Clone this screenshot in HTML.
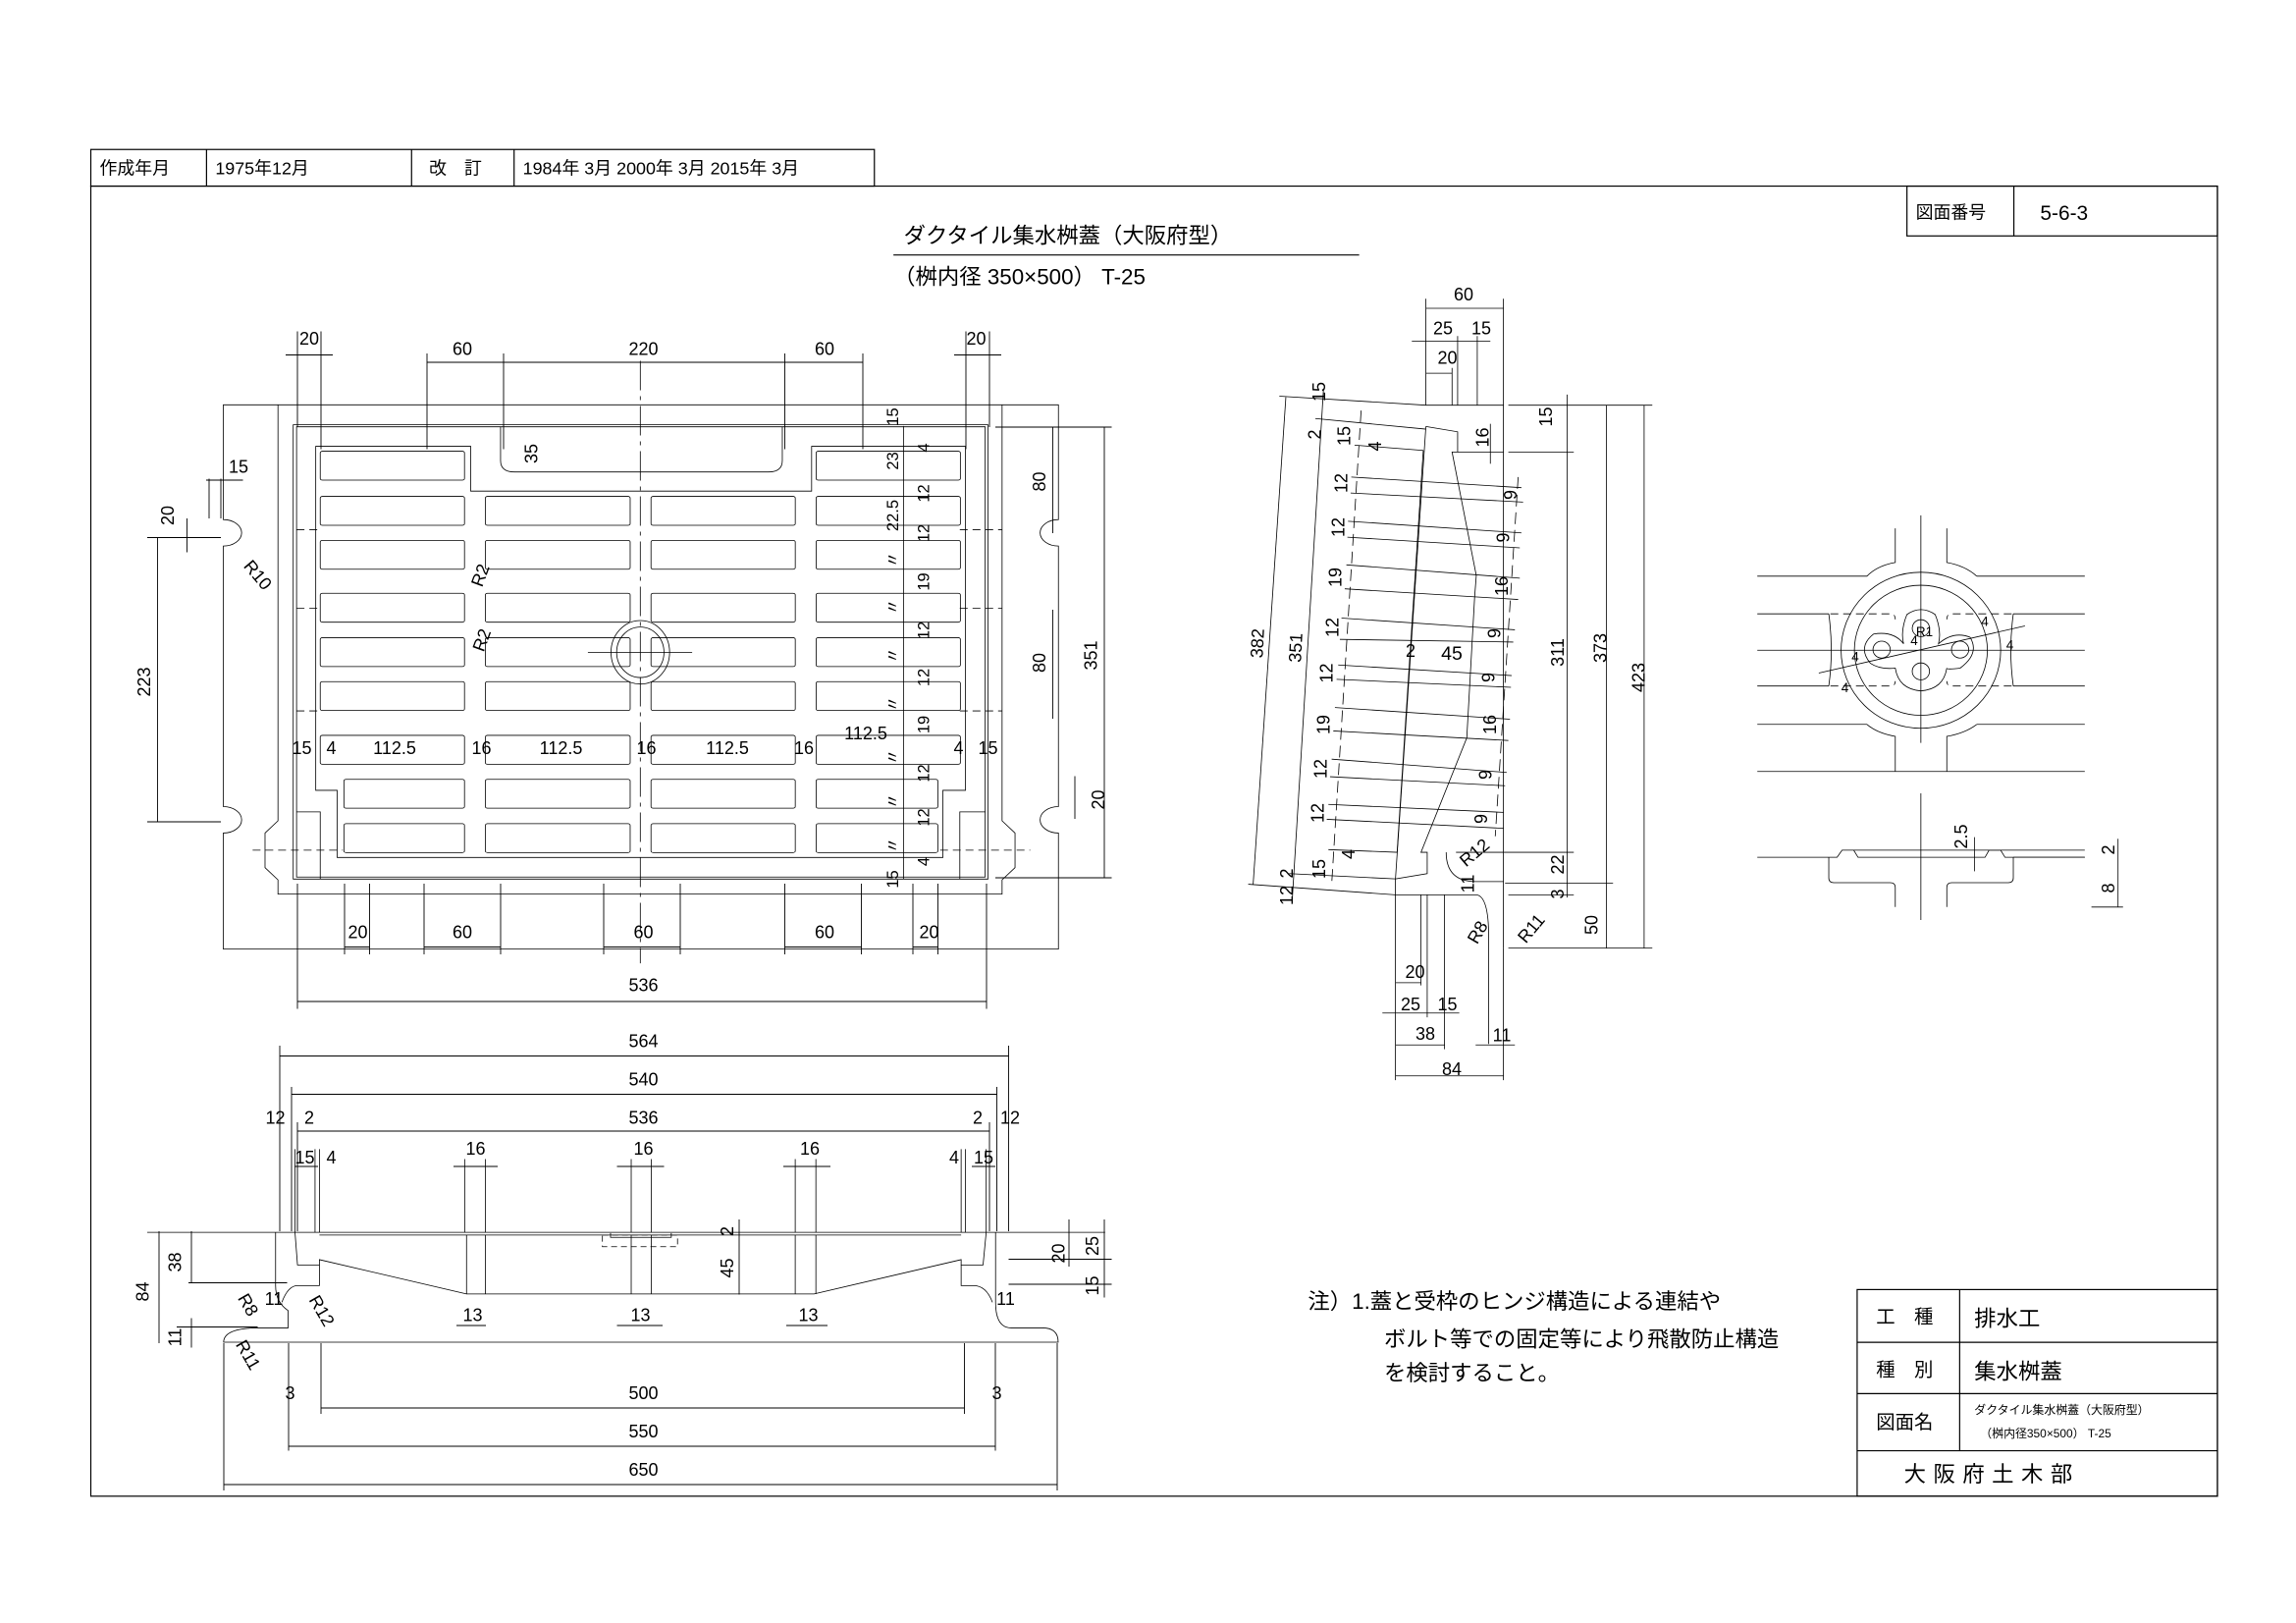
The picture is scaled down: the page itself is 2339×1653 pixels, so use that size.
<!DOCTYPE html>
<html><head><meta charset="utf-8"><style>
html,body{margin:0;padding:0;background:#fff}
svg{display:block}
text{font-family:"Liberation Sans","Noto Sans CJK JP",sans-serif;fill:#000}
.t *{vector-effect:non-scaling-stroke}
</style></head><body>
<svg width="2339" height="1653" viewBox="0 0 1559.33 1102" xmlns="http://www.w3.org/2000/svg" stroke="#000" fill="none" stroke-width="0.8">
<g transform="scale(0.9947,0.995)">
<!-- top strip -->
<rect x="62" y="102" width="535" height="25"/>
<line x1="141" y1="102" x2="141" y2="127"/><line x1="281" y1="102" x2="281" y2="127"/><line x1="351" y1="102" x2="351" y2="127"/>
<g stroke="none" font-size="12">
<text x="68" y="119">作成年月</text><text x="147" y="119">1975年12月</text><text x="293" y="119">改　訂</text><text x="357" y="119">1984年 3月 2000年 3月 2015年 3月</text>
</g>
<rect x="62" y="127" width="1452" height="894"/>
<rect x="1302" y="127" width="212" height="34"/><line x1="1375" y1="127" x2="1375" y2="161"/>
<g stroke="none"><text x="1308" y="149" font-size="12">図面番号</text><text x="1393" y="150" font-size="14">5-6-3</text></g>
<!-- title -->
<g stroke="none" font-size="15"><text x="617" y="166">ダクタイル集水桝蓋（大阪府型）</text><text x="610" y="194">（桝内径 350×500） T-25</text></g>
<line x1="610" y1="174" x2="928" y2="174"/>
</g>

<!-- PLAN VIEW (zoom1 coords) -->
<g class="t" transform="translate(133.3,253.3) scale(0.3827,0.2764)">
<path d="M48,78 H1530 V360 A32,32 0 0 0 1530,425 V1065 A32,32 0 0 0 1530,1130 V1415 H48 V1130 A32,32 0 0 0 48,1065 V425 A32,32 0 0 0 48,360 Z"/>
<path d="M145,78 V1100 L122,1130 V1215 L145,1245 V1280 H1430 V1245 L1453,1215 V1130 L1430,1100 V78"/>
<rect x="172" y="127" width="1233" height="1116"/>
<rect x="178" y="132" width="1222" height="1106"/>
<path d="M212,180 H487 V290 H1092 V180 H1365 V1025 H1325 V1190 H250 V1025 H212 Z"/>
<path d="M540,132 V215 Q540,243 565,243 H1015 Q1040,243 1040,215 V132"/>
<path d="M178,1078 H220 V1243 M1400,1078 H1355 V1243"/>
<g>
<rect x="220" y="192" width="256" height="71" rx="4"/><rect x="1100" y="192" width="256" height="71" rx="4"/>
<rect x="220" y="303" width="256" height="71" rx="4"/><rect x="513" y="303" width="257" height="71" rx="4"/><rect x="807" y="303" width="256" height="71" rx="4"/><rect x="1100" y="303" width="256" height="71" rx="4"/>
<rect x="220" y="411" width="256" height="71" rx="4"/><rect x="513" y="411" width="257" height="71" rx="4"/><rect x="807" y="411" width="256" height="71" rx="4"/><rect x="1100" y="411" width="256" height="71" rx="4"/>
<rect x="220" y="541" width="256" height="71" rx="4"/><rect x="513" y="541" width="257" height="71" rx="4"/><rect x="807" y="541" width="256" height="71" rx="4"/><rect x="1100" y="541" width="256" height="71" rx="4"/>
<rect x="220" y="650" width="256" height="71" rx="4"/><rect x="513" y="650" width="257" height="71" rx="4"/><rect x="807" y="650" width="256" height="71" rx="4"/><rect x="1100" y="650" width="256" height="71" rx="4"/>
<rect x="220" y="758" width="256" height="71" rx="4"/><rect x="513" y="758" width="257" height="71" rx="4"/><rect x="807" y="758" width="256" height="71" rx="4"/><rect x="1100" y="758" width="256" height="71" rx="4"/>
<rect x="220" y="890" width="256" height="71" rx="4"/><rect x="513" y="890" width="257" height="71" rx="4"/><rect x="807" y="890" width="256" height="71" rx="4"/><rect x="1100" y="890" width="256" height="71" rx="4"/>
<rect x="262" y="998" width="214" height="71" rx="4"/><rect x="513" y="998" width="257" height="71" rx="4"/><rect x="807" y="998" width="256" height="71" rx="4"/><rect x="1100" y="998" width="216" height="71" rx="4"/>
<rect x="262" y="1107" width="214" height="71" rx="4"/><rect x="513" y="1107" width="257" height="71" rx="4"/><rect x="807" y="1107" width="256" height="71" rx="4"/><rect x="1100" y="1107" width="216" height="71" rx="4"/>
</g>
<ellipse cx="788" cy="686" rx="52" ry="78"/><ellipse cx="788" cy="686" rx="42" ry="62"/>
<line x1="695" y1="686" x2="880" y2="686"/>
<line x1="788" y1="-30" x2="788" y2="1450" stroke-dasharray="30,6,4,6"/>
<g stroke-dasharray="8,5"><line x1="178" y1="385" x2="220" y2="385"/><line x1="1355" y1="385" x2="1430" y2="385"/><line x1="178" y1="578" x2="220" y2="578"/><line x1="1355" y1="578" x2="1430" y2="578"/><line x1="178" y1="830" x2="220" y2="830"/><line x1="1355" y1="830" x2="1430" y2="830"/>
<line x1="100" y1="1172" x2="260" y2="1172"/><line x1="1320" y1="1172" x2="1480" y2="1172"/></g>
<line x1="1255" y1="130" x2="1255" y2="1243"/>
</g>
<!-- plan dims -->
<g stroke-width="0.6">
<line x1="202" y1="225" x2="202" y2="290"/><line x1="218" y1="225" x2="218" y2="305"/><line x1="290" y1="240" x2="290" y2="305"/><line x1="342" y1="240" x2="342" y2="305"/><line x1="533" y1="240" x2="533" y2="305"/><line x1="586" y1="240" x2="586" y2="305"/><line x1="656" y1="225" x2="656" y2="305"/><line x1="672" y1="225" x2="672" y2="290"/>
<line x1="194" y1="241" x2="226" y2="241"/><line x1="290" y1="246" x2="586" y2="246"/><line x1="648" y1="241" x2="680" y2="241"/>
<line x1="234" y1="600" x2="234" y2="648"/><line x1="251" y1="600" x2="251" y2="648"/><line x1="288" y1="600" x2="288" y2="648"/><line x1="340" y1="600" x2="340" y2="648"/><line x1="410" y1="600" x2="410" y2="648"/><line x1="462" y1="600" x2="462" y2="648"/><line x1="533" y1="600" x2="533" y2="648"/><line x1="585" y1="600" x2="585" y2="648"/><line x1="620" y1="600" x2="620" y2="648"/><line x1="637" y1="600" x2="637" y2="648"/>
<line x1="234" y1="643" x2="251" y2="643"/><line x1="288" y1="643" x2="340" y2="643"/><line x1="410" y1="643" x2="462" y2="643"/><line x1="533" y1="643" x2="585" y2="643"/><line x1="620" y1="643" x2="637" y2="643"/>
<line x1="202" y1="600" x2="202" y2="685"/><line x1="670" y1="600" x2="670" y2="685"/><line x1="202" y1="680" x2="670" y2="680"/>
<line x1="107" y1="365" x2="107" y2="558"/><line x1="100" y1="365" x2="150" y2="365"/><line x1="100" y1="558" x2="150" y2="558"/>
<line x1="127" y1="352" x2="127" y2="375"/><line x1="142" y1="325" x2="142" y2="352"/><line x1="150" y1="325" x2="150" y2="352"/><line x1="140" y1="326" x2="165" y2="326"/>
<line x1="715" y1="290" x2="715" y2="362"/><line x1="715" y1="414" x2="715" y2="488"/><line x1="750" y1="290" x2="750" y2="596"/><line x1="730" y1="527" x2="730" y2="556"/>
<line x1="676" y1="290" x2="755" y2="290"/><line x1="676" y1="596" x2="755" y2="596"/>
</g>
<g stroke="none" font-size="12" text-anchor="middle">
<text x="210" y="234">20</text><text x="314" y="241">60</text><text x="437" y="241">220</text><text x="560" y="241">60</text><text x="663" y="234">20</text>
<text x="243" y="637">20</text><text x="314" y="637">60</text><text x="437" y="637">60</text><text x="560" y="637">60</text><text x="631" y="637">20</text>
<text x="437" y="673">536</text>
<text x="162" y="321">15</text>
<text transform="translate(102,463) rotate(-90)">223</text>
<text transform="translate(118,350) rotate(-90)">20</text>
<text transform="translate(172,393) rotate(50)">R10</text>
<text transform="translate(365,308) rotate(-90)">35</text>
<text transform="translate(330,392) rotate(-70)">R2</text>
<text transform="translate(331,436) rotate(-70)">R2</text>
<text transform="translate(710,327) rotate(-90)">80</text>
<text transform="translate(710,450) rotate(-90)">80</text>
<text transform="translate(745,445) rotate(-90)">351</text>
<text transform="translate(750,543) rotate(-90)">20</text>
<text x="205" y="512">15</text><text x="225" y="512">4</text><text x="268" y="512">112.5</text><text x="327" y="512">16</text><text x="381" y="512">112.5</text><text x="439" y="512">16</text><text x="494" y="512">112.5</text><text x="546" y="512">16</text><text x="588" y="502">112.5</text><text x="651" y="512">4</text><text x="671" y="512">15</text>
</g>
<g stroke="none" font-size="11" text-anchor="middle">
<text transform="translate(610,283) rotate(-90)">15</text><text transform="translate(631,304) rotate(-90)">4</text><text transform="translate(610,313) rotate(-90)">23</text><text transform="translate(631,335) rotate(-90)">12</text><text transform="translate(610,350) rotate(-90)">22.5</text><text transform="translate(631,362) rotate(-90)">12</text><text transform="translate(610,380) rotate(-90)">〃</text><text transform="translate(631,395) rotate(-90)">19</text><text transform="translate(610,412) rotate(-90)">〃</text><text transform="translate(631,428) rotate(-90)">12</text><text transform="translate(610,445) rotate(-90)">〃</text><text transform="translate(631,460) rotate(-90)">12</text><text transform="translate(610,478) rotate(-90)">〃</text><text transform="translate(631,492) rotate(-90)">19</text><text transform="translate(610,514) rotate(-90)">〃</text><text transform="translate(631,525) rotate(-90)">12</text><text transform="translate(610,544) rotate(-90)">〃</text><text transform="translate(631,555) rotate(-90)">12</text><text transform="translate(610,574) rotate(-90)">〃</text><text transform="translate(631,585) rotate(-90)">4</text><text transform="translate(610,597) rotate(-90)">15</text>
</g>

<!-- SECTION VIEW (zoom4 coords) -->
<g class="t" transform="translate(100,766.7) scale(0.4252,0.226)">
<line x1="0" y1="310" x2="1530" y2="310"/>
<path d="M205,310 V470 Q205,520 225,545 L225,597 H172 Q122,600 122,640 H1455 Q1455,597 1430,597 H1380 Q1355,597 1355,520 V470 V310"/>
<path d="M236,310 L240,408 H275 V392 L510,495 H1065 L1300,392 V408 H1335 L1340,310"/>
<path d="M275,408 V470 H240 Q225,470 215,520 M1300,408 V470 H1320 Q1340,470 1350,520"/>
<path d="M275,318 H1300 M510,318 L510,495 M540,318 L540,495 M773,318 V495 M805,318 V495 M1035,318 V495 M1068,318 V495"/>
<path d="M507,90 V310 M540,90 V310 M773,90 V310 M805,90 V310 M1035,90 V310 M1068,90 V310 M236,60 V310 M268,60 V310 M275,60 V310 M1300,60 V310 M1307,60 V310 M1340,60 V310"/>
<path d="M740,312 V325 H837 V312" /><rect x="727" y="318" width="120" height="35" stroke-dasharray="6,4"/>
</g>
<g stroke-width="0.6">
<line x1="190" y1="710" x2="190" y2="836"/><line x1="685" y1="710" x2="685" y2="836"/><line x1="190" y1="717" x2="685" y2="717"/>
<line x1="198" y1="738" x2="198" y2="836"/><line x1="677" y1="738" x2="677" y2="836"/><line x1="198" y1="743" x2="677" y2="743"/>
<line x1="202" y1="762" x2="202" y2="836"/><line x1="672" y1="762" x2="672" y2="836"/><line x1="202" y1="768" x2="672" y2="768"/>
<line x1="200" y1="792" x2="216" y2="792"/><line x1="660" y1="792" x2="676" y2="792"/>
<line x1="308" y1="792" x2="338" y2="792"/><line x1="419" y1="792" x2="451" y2="792"/><line x1="532" y1="792" x2="564" y2="792"/>
<line x1="310" y1="900" x2="330" y2="900"/><line x1="419" y1="900" x2="450" y2="900"/><line x1="534" y1="900" x2="562" y2="900"/>
<line x1="108" y1="836" x2="108" y2="912"/><line x1="130" y1="836" x2="130" y2="871"/><line x1="130" y1="895" x2="130" y2="915"/><line x1="128" y1="871" x2="195" y2="871"/><line x1="120" y1="901" x2="175" y2="901"/>
<line x1="502" y1="828" x2="502" y2="879"/>
<line x1="726" y1="828" x2="726" y2="860"/><line x1="750" y1="828" x2="750" y2="881"/><line x1="685" y1="855" x2="755" y2="855"/><line x1="685" y1="872" x2="755" y2="872"/>
<line x1="218" y1="912" x2="218" y2="960"/><line x1="655" y1="912" x2="655" y2="960"/><line x1="218" y1="956" x2="655" y2="956"/>
<line x1="196" y1="912" x2="196" y2="985"/><line x1="676" y1="912" x2="676" y2="985"/><line x1="196" y1="982" x2="676" y2="982"/>
<line x1="152" y1="912" x2="152" y2="1012"/><line x1="718" y1="912" x2="718" y2="1012"/><line x1="152" y1="1008" x2="718" y2="1008"/>
</g>
<g stroke="none" font-size="12" text-anchor="middle">
<text x="437" y="711">564</text><text x="437" y="737">540</text><text x="437" y="763">536</text>
<text x="187" y="763">12</text><text x="210" y="763">2</text><text x="664" y="763">2</text><text x="686" y="763">12</text>
<text x="207" y="790">15</text><text x="225" y="790">4</text><text x="648" y="790">4</text><text x="668" y="790">15</text>
<text x="323" y="784">16</text><text x="437" y="784">16</text><text x="550" y="784">16</text>
<text x="321" y="897">13</text><text x="435" y="897">13</text><text x="549" y="897">13</text>
<text transform="translate(123,857) rotate(-90)">38</text><text transform="translate(101,877) rotate(-90)">84</text><text transform="translate(123,908) rotate(-90)">11</text>
<text transform="translate(165,888) rotate(60)">R8</text><text transform="translate(165,922) rotate(60)">R11</text><text transform="translate(215,892) rotate(60)">R12</text>
<text x="186" y="886">11</text><text x="683" y="886">11</text>
<text transform="translate(498,861) rotate(-90)">45</text><text transform="translate(498,836) rotate(-90)">2</text>
<text transform="translate(723,851) rotate(-90)">20</text><text transform="translate(746,846) rotate(-90)">25</text><text transform="translate(746,873) rotate(-90)">15</text>
<text x="437" y="950">500</text><text x="437" y="976">550</text><text x="437" y="1002">650</text>
<text x="197" y="950">3</text><text x="677" y="950">3</text>
</g>

<!-- RIGHT SECTION (zoom2 coords) -->
<g class="t" transform="translate(833.3,166.7) scale(0.2222,0.3614)">
<path d="M608,300 H845 V1320"/>
<path d="M608,340 L705,350 V388 H688 L762,620 L757,660 L733,925 L593,1140 H612 V1180 L515,1190 L608,340"/>
<line x1="600" y1="385" x2="520" y2="1140"/>
<path d="M515,1190 V1220 H760 Q800,1220 800,1300 V1500"/>
<path d="M670,1140 Q670,1195 760,1195 H845"/>
<line x1="705" y1="388" x2="845" y2="388"/>
<line x1="180" y1="285" x2="80" y2="1200"/><line x1="295" y1="270" x2="200" y2="1225"/>
<line x1="410" y1="310" x2="320" y2="1200" stroke-dasharray="12,6"/>
<line x1="890" y1="435" x2="820" y2="1110" stroke-dasharray="12,6"/>
<line x1="160" y1="283" x2="608" y2="300"/><line x1="270" y1="325" x2="608" y2="345"/><line x1="390" y1="375" x2="600" y2="385"/>
<line x1="65" y1="1200" x2="515" y2="1220"/><line x1="190" y1="1180" x2="515" y2="1190"/><line x1="310" y1="1135" x2="520" y2="1140"/>
<g>
<line x1="380" y1="435" x2="900" y2="455"/><line x1="378" y1="465" x2="905" y2="482"/>
<line x1="370" y1="518" x2="900" y2="540"/><line x1="368" y1="548" x2="895" y2="568"/>
<line x1="365" y1="600" x2="895" y2="625"/><line x1="360" y1="645" x2="890" y2="665"/>
<line x1="350" y1="700" x2="880" y2="722"/><line x1="345" y1="740" x2="875" y2="745"/>
<line x1="340" y1="788" x2="870" y2="808"/><line x1="335" y1="815" x2="868" y2="830"/>
<line x1="330" y1="868" x2="865" y2="890"/><line x1="325" y1="912" x2="860" y2="930"/>
<line x1="320" y1="965" x2="855" y2="990"/><line x1="315" y1="998" x2="850" y2="1015"/>
<line x1="310" y1="1050" x2="845" y2="1065"/><line x1="305" y1="1078" x2="845" y2="1095"/>
</g>
<line x1="608" y1="100" x2="608" y2="300"/><line x1="845" y1="100" x2="845" y2="300"/><line x1="608" y1="118" x2="845" y2="118"/>
<line x1="565" y1="180" x2="805" y2="180"/><line x1="705" y1="170" x2="705" y2="300"/><line x1="765" y1="170" x2="765" y2="300"/>
<line x1="608" y1="240" x2="688" y2="240"/><line x1="688" y1="230" x2="688" y2="300"/>
<line x1="860" y1="300" x2="1300" y2="300"/><line x1="860" y1="388" x2="1060" y2="388"/><line x1="700" y1="1140" x2="1060" y2="1140"/><line x1="850" y1="1198" x2="1180" y2="1198"/><line x1="860" y1="1220" x2="1060" y2="1220"/><line x1="860" y1="1320" x2="1300" y2="1320"/>
<line x1="1040" y1="280" x2="1040" y2="1225"/><line x1="1160" y1="300" x2="1160" y2="1320"/><line x1="1275" y1="300" x2="1275" y2="1320"/>
<line x1="515" y1="1220" x2="515" y2="1568"/><line x1="593" y1="1220" x2="593" y2="1390"/><line x1="612" y1="1220" x2="612" y2="1450"/><line x1="665" y1="1220" x2="665" y2="1510"/>
<line x1="515" y1="1385" x2="593" y2="1385"/><line x1="475" y1="1442" x2="710" y2="1442"/><line x1="515" y1="1502" x2="665" y2="1502"/><line x1="760" y1="1502" x2="880" y2="1502"/>
<line x1="515" y1="1560" x2="845" y2="1560"/><line x1="845" y1="1320" x2="845" y2="1568"/>
<line x1="805" y1="335" x2="805" y2="410"/>
</g>
<g stroke="none" font-size="12" text-anchor="middle">
<text x="994" y="204">60</text><text x="980" y="227">25</text><text x="1006" y="227">15</text><text x="983" y="247">20</text>
<text transform="translate(900,266) rotate(-90)">15</text><text transform="translate(897,295) rotate(-90)">2</text><text transform="translate(917,296) rotate(-90)">15</text><text transform="translate(938,303) rotate(-90)">4</text>
<text transform="translate(915,328) rotate(-90)">12</text><text transform="translate(913,358) rotate(-90)">12</text><text transform="translate(911,392) rotate(-90)">19</text><text transform="translate(909,426) rotate(-90)">12</text><text transform="translate(905,457) rotate(-90)">12</text><text transform="translate(903,492) rotate(-90)">19</text><text transform="translate(901,522) rotate(-90)">12</text><text transform="translate(899,552) rotate(-90)">12</text><text transform="translate(900,590) rotate(-90)">15</text><text transform="translate(878,593) rotate(-90)">2</text><text transform="translate(878,608) rotate(-90)">12</text><text transform="translate(920,580) rotate(-90)">4</text>
<text transform="translate(858,437) rotate(-87)">382</text><text transform="translate(884,440) rotate(-87)">351</text>
<text transform="translate(1030,336) rotate(-90)">9</text><text transform="translate(1025,365) rotate(-90)">9</text><text transform="translate(1024,398) rotate(-90)">16</text><text transform="translate(1019,430) rotate(-90)">9</text><text transform="translate(1015,460) rotate(-90)">9</text><text transform="translate(1016,492) rotate(-90)">16</text><text transform="translate(1013,526) rotate(-90)">9</text><text transform="translate(1010,556) rotate(-90)">9</text>
<text transform="translate(1011,297) rotate(-90)">16</text>
<text x="958" y="446">2</text><text x="986" y="448" font-size="13">45</text>
<text transform="translate(1054,283) rotate(-90)">15</text><text transform="translate(1062,443) rotate(-90)">311</text><text transform="translate(1091,440) rotate(-90)">373</text><text transform="translate(1117,460) rotate(-90)">423</text>
<text transform="translate(1062,587) rotate(-90)">22</text><text transform="translate(1062,607) rotate(-90)">3</text><text transform="translate(1085,628) rotate(-90)">50</text>
<text transform="translate(1004,582) rotate(-40)">R12</text><text transform="translate(1001,600) rotate(-90)">11</text><text transform="translate(1007,635) rotate(-60)">R8</text><text transform="translate(1043,633) rotate(-50)">R11</text>
<text x="961" y="664">20</text><text x="958" y="686">25</text><text x="983" y="686">15</text><text x="968" y="706">38</text><text x="986" y="730">84</text><text x="1020" y="707">11</text>
</g>

<!-- DETAIL (zoom3 coords) -->
<g class="t" transform="translate(1186.7,340) scale(0.2258,0.2207)">
<line x1="30" y1="232" x2="360" y2="232"/><line x1="690" y1="232" x2="1015" y2="232"/>
<line x1="30" y1="348" x2="245" y2="348"/><line x1="800" y1="348" x2="1015" y2="348"/>
<line x1="30" y1="460" x2="1015" y2="460"/>
<line x1="30" y1="570" x2="245" y2="570"/><line x1="800" y1="570" x2="1015" y2="570"/>
<line x1="30" y1="688" x2="360" y2="688"/><line x1="690" y1="688" x2="1015" y2="688"/>
<line x1="30" y1="833" x2="1015" y2="833"/>
<path d="M445,85 V190 Q390,200 360,232 M600,85 V190 Q655,200 690,232 M445,833 V725 Q390,715 360,688 M600,833 V725 Q655,715 690,688"/>
<path d="M245,348 Q260,460 245,570 M800,348 Q785,460 800,570"/>
<circle cx="522" cy="460" r="240"/><circle cx="522" cy="460" r="200"/>
<circle cx="404" cy="458" r="26"/><circle cx="640" cy="458" r="26"/><circle cx="522" cy="525" r="26"/><circle cx="522" cy="392" r="26"/>
<path d="M470,440 Q460,400 480,350 Q522,320 565,350 Q585,400 575,440 Q620,400 670,420 Q700,470 640,515 Q600,520 600,515 Q590,580 522,585 Q455,580 445,515 Q400,520 370,500 Q330,450 380,410 Q440,400 470,440 Z"/>
<g stroke-dasharray="8,5"><path d="M250,348 H430 Q445,348 445,365 M250,570 H430 Q445,570 445,555 M795,348 H615 Q600,348 600,365 M795,570 H615 Q600,570 600,555"/></g>
<line x1="522" y1="45" x2="522" y2="745"/>
<line x1="215" y1="530" x2="835" y2="385"/>
<line x1="30" y1="1097" x2="245" y2="1097"/><line x1="800" y1="1097" x2="1015" y2="1097"/>
<path d="M245,1097 Q245,1100 245,1160 Q245,1175 260,1175 H430 Q445,1175 445,1190 V1250 M600,1250 V1190 Q600,1175 615,1175 H785 Q800,1175 800,1160 V1097"/>
<path d="M245,1097 H270 L285,1075 H320 L333,1097 H715 L727,1075 H762 L775,1097 H1015"/>
<line x1="320" y1="1075" x2="1015" y2="1075"/>
<line x1="522" y1="900" x2="522" y2="1290"/>
<line x1="683" y1="1035" x2="683" y2="1140"/>
<line x1="1035" y1="1250" x2="1130" y2="1250"/><line x1="1115" y1="1040" x2="1115" y2="1250"/>
</g>
<g stroke="none" font-size="9" text-anchor="middle">
<text x="1260" y="449">4</text><text x="1253" y="470">4</text><text x="1300" y="438">4</text><text x="1307" y="432">R1</text><text x="1348" y="425">4</text><text x="1365" y="441">4</text>
</g>
<g stroke="none" font-size="12" text-anchor="middle">
<text transform="translate(1336,568) rotate(-90)">2.5</text><text transform="translate(1436,577) rotate(-90)">2</text><text transform="translate(1436,603) rotate(-90)">8</text>
</g>

<g transform="scale(0.9947,0.995)">
<!-- notes -->
<g stroke="none" font-size="15"><text x="893" y="893">注）1.蓋と受枠のヒンジ構造による連結や</text><text x="945" y="919">ボルト等での固定等により飛散防止構造</text><text x="945" y="942">を検討すること。</text></g>
<!-- title block -->
<rect x="1268" y="880" width="246" height="141"/>
<line x1="1268" y1="916" x2="1514" y2="916"/><line x1="1268" y1="951" x2="1514" y2="951"/><line x1="1268" y1="990" x2="1514" y2="990"/><line x1="1338" y1="880" x2="1338" y2="990"/>
<g stroke="none">
<text x="1281" y="903" font-size="13">工　種</text><text x="1348" y="905" font-size="15">排水工</text>
<text x="1281" y="939" font-size="13">種　別</text><text x="1348" y="941" font-size="15">集水桝蓋</text>
<text x="1281" y="975" font-size="13">図面名</text><text x="1348" y="965" font-size="8">ダクタイル集水桝蓋（大阪府型）</text><text x="1352" y="981" font-size="8">（桝内径350×500） T-25</text>
<text x="1300" y="1011" font-size="15" letter-spacing="5">大阪府土木部</text>
</g>
</g>
</svg>
</body></html>
